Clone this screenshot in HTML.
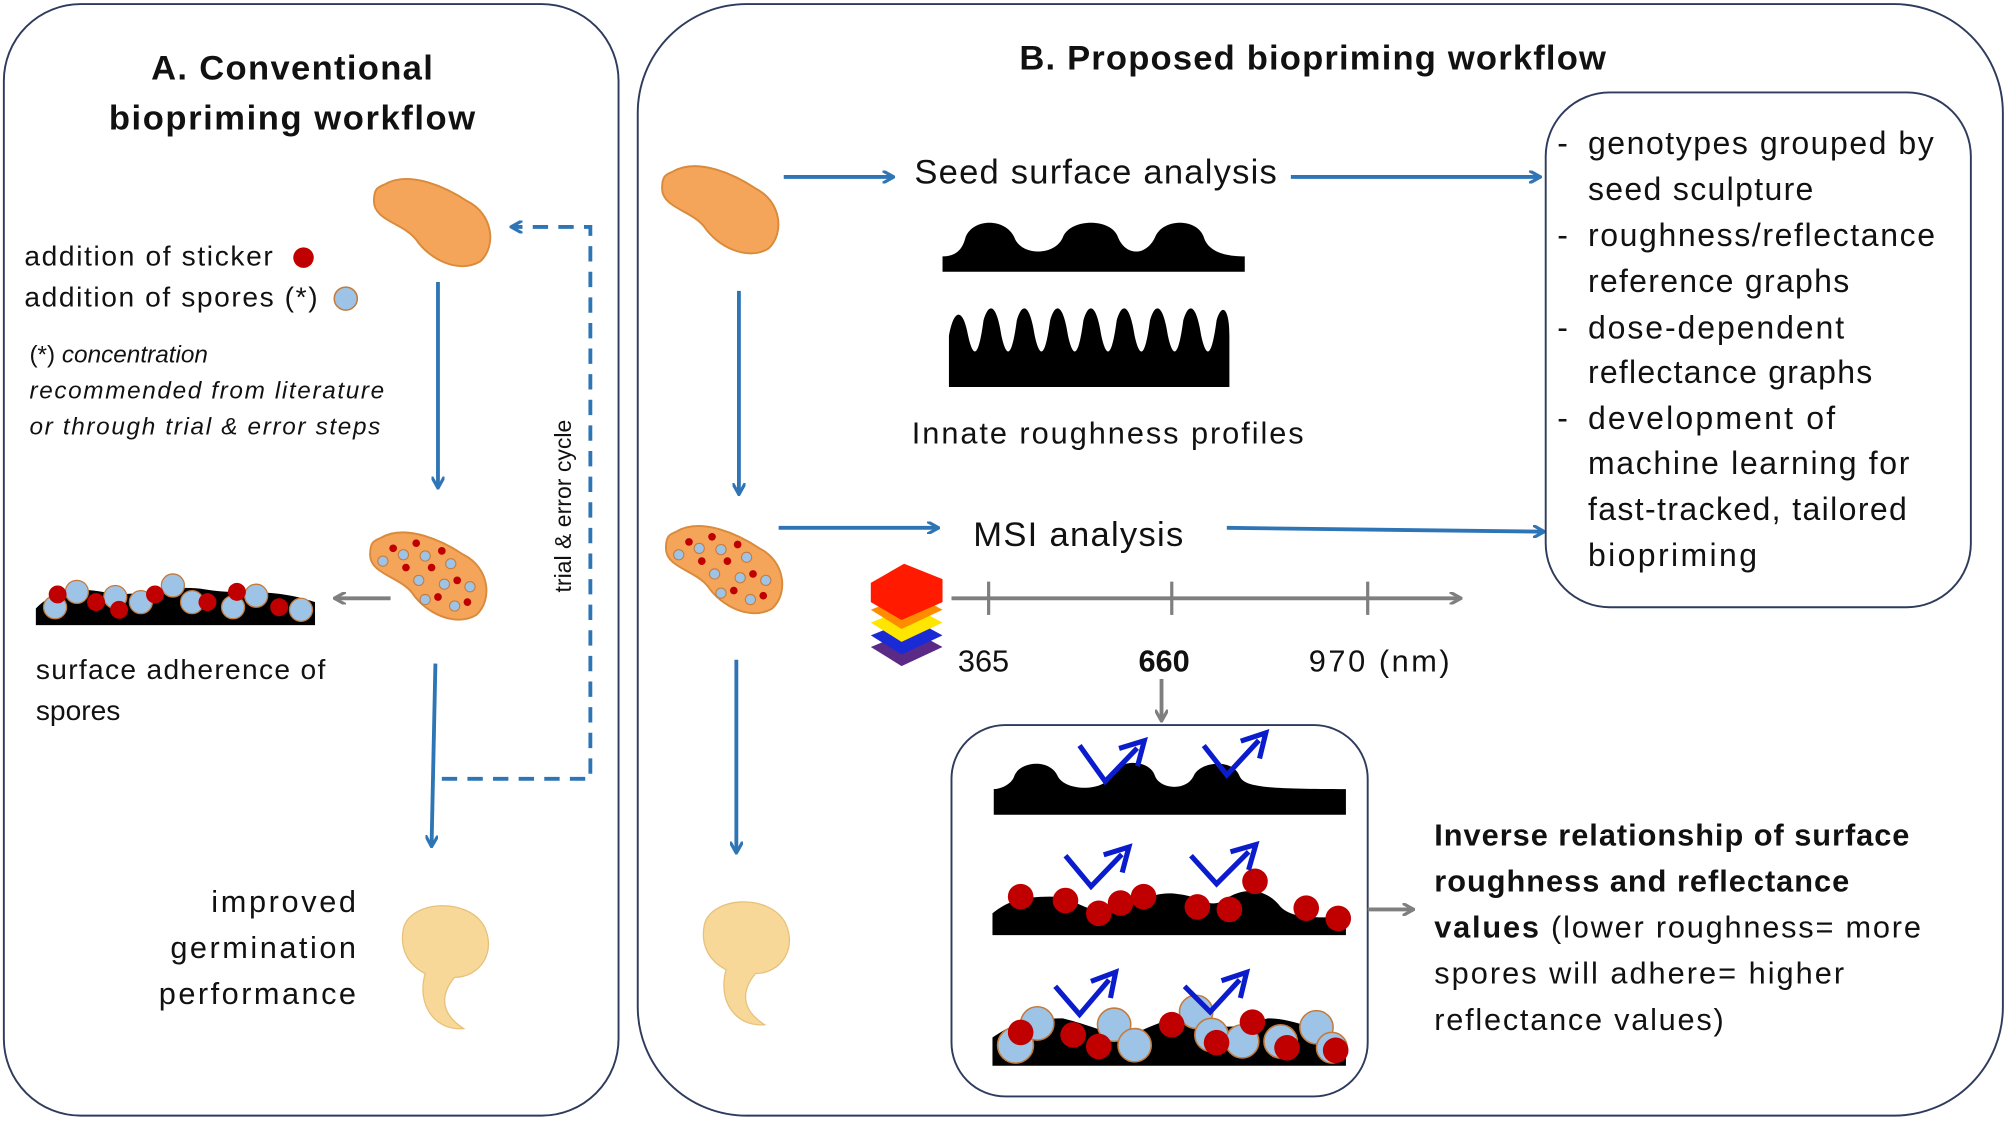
<!DOCTYPE html>
<html><head><meta charset="utf-8"><style>
html,body{margin:0;padding:0;background:#fff;}
svg{display:block;}
text{font-family:"Liberation Sans","DejaVu Sans",sans-serif;fill:#111;}
</style></head><body>
<svg width="2008" height="1121" viewBox="0 0 1568 875" xmlns="http://www.w3.org/2000/svg">
<defs>
<marker id="ab" markerWidth="10" markerHeight="10" refX="8" refY="5" orient="auto" markerUnits="userSpaceOnUse"><path d="M0,0 L9,5 L0,10" fill="none" stroke="#2e75b6" stroke-width="2.5"/></marker>
<marker id="ag" markerWidth="10" markerHeight="10" refX="8" refY="5" orient="auto" markerUnits="userSpaceOnUse"><path d="M0,0 L9,5 L0,10" fill="none" stroke="#7f7f7f" stroke-width="2.5"/></marker>
<marker id="ak" markerWidth="24" markerHeight="24" refX="12" refY="12" orient="auto" markerUnits="userSpaceOnUse"><path d="M2,2 L20,12 L2,22" fill="none" stroke="#0b1ccc" stroke-width="4"/></marker>
<g id="seed"><path d="M-40,-28 C-20,-40 10,-25 25,-15 C45,-5 48,20 35,32 C18,42 -5,30 -15,15 C-25,2 -48,0 -48,-15 C-48,-25 -45,-26 -40,-28Z" fill="#f5a55a" stroke="#d98a3a" stroke-width="1.5"/></g>
<g id="sprout"><path d="M-35,-20 C-30,-42 15,-45 28,-22 C38,-2 25,18 5,18 C-5,30 -8,45 12,58 C-10,60 -25,40 -18,15 C-32,8 -38,-5 -35,-20Z" fill="#f7d898" stroke="#e7c17a" stroke-width="1"/></g>
<g id="spseed"><use href="#seed"/>
<g fill="#c00000"><circle cx="-30" cy="-20" r="3"/><circle cx="-12" cy="-24" r="3"/><circle cx="8" cy="-18" r="3"/><circle cx="-20" cy="-5" r="3"/><circle cx="0" cy="-5" r="3"/><circle cx="20" cy="5" r="3"/><circle cx="5" cy="18" r="3"/><circle cx="28" cy="22" r="3"/></g>
<g fill="#9dc3e6" stroke="#c47a3a" stroke-width="0.8"><circle cx="-38" cy="-10" r="4"/><circle cx="-22" cy="-15" r="4"/><circle cx="-5" cy="-14" r="4"/><circle cx="15" cy="-8" r="4"/><circle cx="-10" cy="5" r="4"/><circle cx="10" cy="8" r="4"/><circle cx="30" cy="10" r="4"/><circle cx="18" cy="25" r="4"/><circle cx="-5" cy="20" r="4"/></g></g>
</defs>
<!-- Panels -->
<rect x="3" y="3" width="480" height="868" rx="60" fill="none" stroke="#2f3b5c" stroke-width="1.5"/>
<rect x="498" y="3" width="1066" height="868" rx="85" fill="none" stroke="#2f3b5c" stroke-width="1.5"/>
<text x="118" y="62" font-size="27" font-weight="bold" textLength="220">A. Conventional</text>
<text x="85" y="101" font-size="27" font-weight="bold" textLength="286">biopriming workflow</text>
<text x="796" y="54" font-size="27" font-weight="bold" textLength="458">B. Proposed biopriming workflow</text>

<!-- Panel A -->
<use href="#seed" x="340" y="172"/>
<path d="M345,608 L461,608 L461,177 L400,177" fill="none" stroke="#2e75b6" stroke-width="3" stroke-dasharray="12,8" marker-end="url(#ab)"/>
<text transform="translate(446,395) rotate(-90)" font-size="18" text-anchor="middle">trial &amp; error cycle</text>
<line x1="342" y1="220" x2="342" y2="380" stroke="#2e75b6" stroke-width="3" marker-end="url(#ab)"/>
<text x="19" y="207" font-size="22" textLength="194">addition of sticker</text>
<circle cx="237" cy="201" r="8" fill="#c00000"/>
<text x="19" y="239" font-size="22" textLength="229">addition of spores (*)</text>
<circle cx="270" cy="233" r="9" fill="#9dc3e6" stroke="#c47a3a" stroke-width="1.2"/>
<text x="23" y="283" font-size="19">(*) <tspan font-style="italic">concentration</tspan></text>
<text x="23" y="311" font-size="19" font-style="italic" textLength="277">recommended from literature</text>
<text x="23" y="339" font-size="19" font-style="italic" textLength="274">or  through trial &amp; error steps</text>
<use href="#spseed" x="337" y="448"/>
<line x1="305" y1="467" x2="262" y2="467" stroke="#7f7f7f" stroke-width="3" marker-end="url(#ag)"/>
<path d="M28,488 L28,475 C40,462 60,458 80,462 C110,468 130,455 160,460 C190,465 210,458 246,470 L246,488Z" fill="#000"/>
<g fill="#9dc3e6" stroke="#c47a3a" stroke-width="1"><circle cx="43" cy="474" r="9"/><circle cx="60" cy="462" r="9"/><circle cx="90" cy="466" r="9"/><circle cx="110" cy="470" r="9"/><circle cx="135" cy="457" r="9"/><circle cx="150" cy="470" r="9"/><circle cx="182" cy="474" r="9"/><circle cx="200" cy="465" r="9"/><circle cx="235" cy="476" r="9"/></g>
<g fill="#c00000"><circle cx="45" cy="464" r="7"/><circle cx="75" cy="470" r="7"/><circle cx="93" cy="476" r="7"/><circle cx="121" cy="464" r="7"/><circle cx="162" cy="470" r="7"/><circle cx="185" cy="462" r="7"/><circle cx="218" cy="474" r="7"/></g>
<text x="28" y="530" font-size="22" textLength="226">surface adherence of</text>
<text x="28" y="562" font-size="22">spores</text>
<line x1="340" y1="518" x2="337" y2="660" stroke="#2e75b6" stroke-width="3" marker-end="url(#ab)"/>
<text x="165" y="712" font-size="24" textLength="113">improved</text>
<text x="133" y="748" font-size="24" textLength="145">germination</text>
<text x="124" y="784" font-size="24" textLength="154">performance</text>
<use href="#sprout" x="350" y="745"/>

<!-- Panel B -->
<use href="#seed" x="565" y="162"/>
<line x1="612" y1="138" x2="697" y2="138" stroke="#2e75b6" stroke-width="3" marker-end="url(#ab)"/>
<text x="714" y="143" font-size="27" textLength="283">Seed surface analysis</text>
<line x1="1008" y1="138" x2="1202" y2="138" stroke="#2e75b6" stroke-width="3" marker-end="url(#ab)"/>
<path d="M736,212 L736,200 C748,200 752,193 754,185 C760,170 785,170 792,185 C797,200 824,200 830,185 C836,170 868,170 873,185 C879,200 895,200 902,185 C908,170 935,170 940,185 C944,198 960,200 972,200 L972,212Z" fill="#000"/>
<path d="M741,302 L741,262 C745,240 752,240 756,262 C760,280 764,280 768,250 C772,236 778,236 782,262 C786,280 790,280 794,250 C798,236 804,236 808,262 C812,280 816,280 820,250 C824,236 830,236 834,262 C838,280 842,280 846,250 C850,236 856,236 860,262 C864,280 868,280 872,250 C876,236 882,236 886,262 C890,280 894,280 898,250 C902,236 908,236 912,262 C916,280 920,280 924,250 C928,236 934,236 938,262 C942,280 946,280 950,250 C954,236 960,240 960,262 L960,302Z" fill="#000"/>
<text x="712" y="346" font-size="24" textLength="306">Innate roughness profiles</text>
<line x1="577" y1="227" x2="577" y2="385" stroke="#2e75b6" stroke-width="3" marker-end="url(#ab)"/>
<use href="#spseed" x="568" y="443"/>
<line x1="608" y1="412" x2="732" y2="412" stroke="#2e75b6" stroke-width="3" marker-end="url(#ab)"/>
<text x="760" y="426" font-size="27" textLength="164">MSI analysis</text>
<line x1="958" y1="412" x2="1205" y2="415" stroke="#2e75b6" stroke-width="3" marker-end="url(#ab)"/>
<g>
<path d="M680,505 L712,492 L736,505 L704,520Z" fill="#5b2a86"/>
<path d="M680,496 L712,483 L736,496 L704,511Z" fill="#1a2bd6"/>
<path d="M680,486 L712,473 L736,486 L704,501Z" fill="#ffe600"/>
<path d="M680,476 L712,463 L736,476 L704,491Z" fill="#ff8c00"/>
<path d="M680,455 L706,440 L736,452 L736,470 L704,484 L680,470Z" fill="#ff1a00"/>
</g>
<line x1="743" y1="467" x2="1140" y2="467" stroke="#7f7f7f" stroke-width="3" marker-end="url(#ag)"/>
<g stroke="#7f7f7f" stroke-width="2.5"><line x1="772" y1="454" x2="772" y2="480"/><line x1="915" y1="454" x2="915" y2="480"/><line x1="1068" y1="454" x2="1068" y2="480"/></g>
<text x="748" y="524" font-size="24">365</text>
<text x="889" y="524" font-size="24" font-weight="bold">660</text>
<text x="1022" y="524" font-size="24" textLength="110">970 (nm)</text>
<line x1="907" y1="530" x2="907" y2="562" stroke="#7f7f7f" stroke-width="3" marker-end="url(#ag)"/>
<rect x="743" y="566" width="325" height="290" rx="42" fill="none" stroke="#2f3b5c" stroke-width="1.5"/>
<path d="M776,636 L776,616 C782,616 790,612 792,606 C796,594 820,592 826,606 C832,618 862,618 867,606 C872,592 898,592 902,606 C906,616 926,618 932,606 C937,594 963,592 968,606 C972,614 985,616 1051,616 L1051,636Z" fill="#000"/>
<path d="M775,730 L775,713 C785,705 795,700 820,700 C840,700 850,715 870,711 C890,705 900,695 920,698 C940,700 945,712 960,700 C975,692 990,695 1000,708 C1010,718 1030,716 1051,716 L1051,730Z" fill="#000"/>
<g fill="#c00000"><circle cx="797" cy="700" r="10"/><circle cx="832" cy="703" r="10"/><circle cx="858" cy="713" r="10"/><circle cx="875" cy="705" r="10"/><circle cx="893" cy="700" r="10"/><circle cx="935" cy="708" r="10"/><circle cx="960" cy="710" r="10"/><circle cx="980" cy="688" r="10"/><circle cx="1020" cy="709" r="10"/><circle cx="1045" cy="717" r="10"/></g>
<path d="M775,832 L775,810 C790,800 800,795 830,795 C850,800 860,805 880,810 C900,800 920,790 940,798 C960,805 970,800 990,795 C1010,795 1030,805 1051,812 L1051,832Z" fill="#000"/>
<g fill="#9dc3e6" stroke="#c47a3a" stroke-width="1.2"><circle cx="793" cy="816" r="14"/><circle cx="810" cy="799" r="13"/><circle cx="870" cy="800" r="13"/><circle cx="886" cy="816" r="13"/><circle cx="934" cy="790" r="13"/><circle cx="946" cy="808" r="13"/><circle cx="970" cy="813" r="13"/><circle cx="1000" cy="813" r="13"/><circle cx="1028" cy="802" r="13"/><circle cx="1040" cy="818" r="12"/></g>
<g fill="#c00000"><circle cx="797" cy="806" r="10"/><circle cx="838" cy="808" r="10"/><circle cx="858" cy="817" r="10"/><circle cx="915" cy="800" r="10"/><circle cx="950" cy="814" r="10"/><circle cx="978" cy="798" r="10"/><circle cx="1005" cy="818" r="10"/><circle cx="1043" cy="820" r="10"/></g>
<g fill="none" stroke="#0b1ccc" stroke-width="4">
<path d="M843,582 L863,610 L888,584" marker-end="url(#ak)"/>
<path d="M940,582 L958,605 L983,578" marker-end="url(#ak)"/>
<path d="M832,668 L852,692 L876,667" marker-end="url(#ak)"/>
<path d="M930,668 L950,690 L975,665" marker-end="url(#ak)"/>
<path d="M824,770 L843,792 L866,765" marker-end="url(#ak)"/>
<path d="M925,770 L945,790 L968,765" marker-end="url(#ak)"/>
</g>
<line x1="575" y1="515" x2="575" y2="665" stroke="#2e75b6" stroke-width="3" marker-end="url(#ab)"/>
<use href="#sprout" x="585" y="742"/>
<line x1="1068" y1="710" x2="1103" y2="710" stroke="#7f7f7f" stroke-width="3" marker-end="url(#ag)"/>
<text x="1120" y="660" font-size="24" font-weight="bold" textLength="371">Inverse relationship of surface</text>
<text x="1120" y="696" font-size="24" font-weight="bold" textLength="324">roughness and reflectance</text>
<text x="1120" y="732" font-size="24" textLength="380"><tspan font-weight="bold">values</tspan> (lower roughness= more</text>
<text x="1120" y="768" font-size="24" textLength="320">spores will adhere= higher</text>
<text x="1120" y="804" font-size="24" textLength="226">reflectance values)</text>
<rect x="1207" y="72" width="332" height="402" rx="50" fill="none" stroke="#2f3b5c" stroke-width="1.5"/>
<g font-size="25">
<text x="1216" y="120">-</text><text x="1240" y="120" textLength="270">genotypes grouped by</text>
<text x="1240" y="156" textLength="176">seed sculpture</text>
<text x="1216" y="192">-</text><text x="1240" y="192" textLength="271">roughness/reflectance</text>
<text x="1240" y="228" textLength="204">reference graphs</text>
<text x="1216" y="264">-</text><text x="1240" y="264" textLength="200">dose-dependent</text>
<text x="1240" y="299" textLength="222">reflectance graphs</text>
<text x="1216" y="335">-</text><text x="1240" y="335" textLength="193">development of</text>
<text x="1240" y="370" textLength="251">machine learning for</text>
<text x="1240" y="406" textLength="249">fast-tracked, tailored</text>
<text x="1240" y="442" textLength="132">biopriming</text>
</g>
</svg>
</body></html>
